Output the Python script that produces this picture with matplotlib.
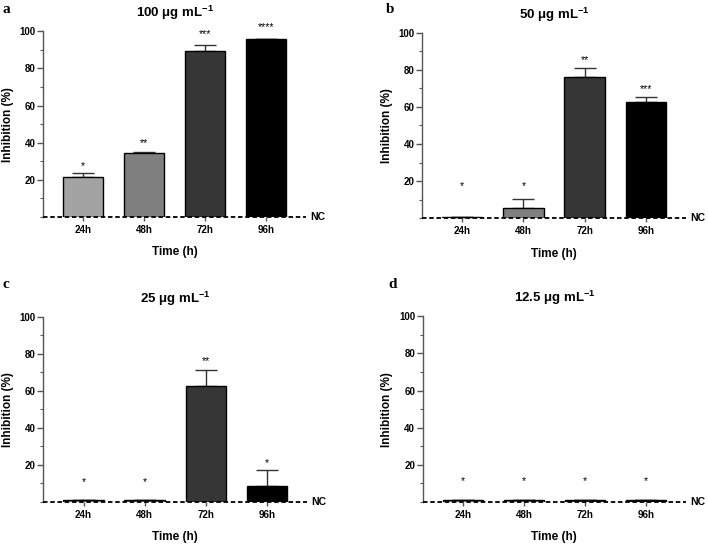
import matplotlib
matplotlib.use('Agg')
from matplotlib import pyplot as plt
from matplotlib.ticker import MultipleLocator

plt.rcParams['font.family'] = ['Liberation Sans', 'DejaVu Sans']
plt.rcParams['font.weight'] = 'bold'
plt.rcParams['mathtext.fontset'] = 'custom'
plt.rcParams['mathtext.rm'] = 'Liberation Sans'
plt.rcParams['mathtext.bf'] = 'Liberation Sans:bold'

times = ['24h', '48h', '72h', '96h']
bar_colors = ['#a3a3a3', '#7f7f7f', '#363636', '#000000']

titles = ['100 μg mL$^{\\mathbf{-1}}$', '50 μg mL$^{\\mathbf{-1}}$',
          '25 μg mL$^{\\mathbf{-1}}$', '12.5 μg mL$^{\\mathbf{-1}}$']
letters = ['a', 'b', 'c', 'd']

# mean inhibition (%) and upper error per time point
vals_a = [21.6, 34.3, 89.4, 95.8]
err_a = [2.0, 0.9, 3.1, 0.0]
vals_b = [0.8, 5.4, 76.2, 62.9]
err_b = [0.0, 5.0, 4.7, 2.4]
vals_c = [0.8, 0.8, 62.5, 8.5]
err_c = [0.0, 0.0, 9.0, 8.5]
vals_d = [0.8, 0.8, 0.8, 0.8]
err_d = [0.0, 0.0, 0.0, 0.0]

# significance marks and where they sit
stars_a = ['*', '**', '***', '****']
star_y_a = [27.5, 40.0, 98.5, 102.0]
stars_b = ['*', '*', '**', '***']
star_y_b = [17.5, 17.5, 85.5, 69.8]
stars_c = ['*', '*', '**', '*']
star_y_c = [10.5, 10.5, 75.8, 21.0]
stars_d = ['*', '*', '*', '*']
star_y_d = [11.0, 11.0, 11.0, 11.0]

panels = [
    (vals_a, err_a, stars_a, star_y_a),
    (vals_b, err_b, stars_b, star_y_b),
    (vals_c, err_c, stars_c, star_y_c),
    (vals_d, err_d, stars_d, star_y_d),
]

# axes boxes in figure fraction [left, bottom, width, height]
boxes = [
    [0.061, 0.604, 0.371, 0.339],
    [0.596, 0.602, 0.373, 0.338],
    [0.061, 0.084, 0.373, 0.338],
    [0.597, 0.084, 0.372, 0.339],
]
letter_pos = [(0.003, 0.995), (0.545, 0.995), (0.003, 0.493), (0.548, 0.493)]

fig = plt.figure(figsize=(7.08, 5.48), dpi=100)

for i in range(4):
    vals, errs, stars, star_y = panels[i]
    ax = fig.add_axes(boxes[i])
    x = list(range(len(times)))
    ax.bar(x, vals, width=0.66, color=bar_colors, edgecolor='black', linewidth=1.0, zorder=2)
    ax.errorbar(x, vals, yerr=[[0]*4, errs], fmt='none', ecolor='#333333',
                elinewidth=1.0, capsize=8, capthick=1.0, zorder=1)
    for xi, s, sy in zip(x, stars, star_y):
        ax.text(xi, sy, s, ha='center', va='center', fontsize=7.5, fontweight='normal', clip_on=False)
    ax.axhline(0, color='black', linestyle=(0, (2.5, 1.5)), linewidth=1.3, clip_on=False, zorder=3)
    ax.text(1.015, 0, 'NC', transform=ax.get_yaxis_transform(), ha='left', va='center',
            fontsize=7.5, fontweight='bold')
    ax.set_xlim(-0.66, 3.66)
    ax.set_ylim(0, 100)
    ax.set_yticks([20, 40, 60, 80, 100])
    ax.yaxis.set_minor_locator(MultipleLocator(10))
    ax.set_xticks(x)
    ax.set_xticklabels(times)
    for sp in ['top', 'right', 'bottom']:
        ax.spines[sp].set_visible(False)
    ax.spines['left'].set_color('#555555')
    ax.spines['left'].set_linewidth(1.0)
    ax.tick_params(axis='y', which='major', length=4, width=1.0, color='#555555', labelsize=7, pad=1.5)
    ax.tick_params(axis='y', which='minor', length=2.5, width=0.8, color='#555555')
    ax.tick_params(axis='x', length=3, width=1.0, color='#555555', labelsize=7, pad=3)
    for lab in ax.get_xticklabels() + ax.get_yticklabels():
        lab.set_fontweight('bold')
    ax.set_ylabel('Inhibition (%)', fontsize=8.5, fontweight='bold', labelpad=4)
    ax.set_xlabel('Time (h)', fontsize=8.5, fontweight='bold', labelpad=8)
    ax.set_title(titles[i], fontsize=9.5, fontweight='bold', pad=10)
    fig.text(letter_pos[i][0], letter_pos[i][1], letters[i], family='Liberation Serif',
             fontsize=11, fontweight='bold', ha='left', va='top')

fig.savefig('out.png', dpi=100)
